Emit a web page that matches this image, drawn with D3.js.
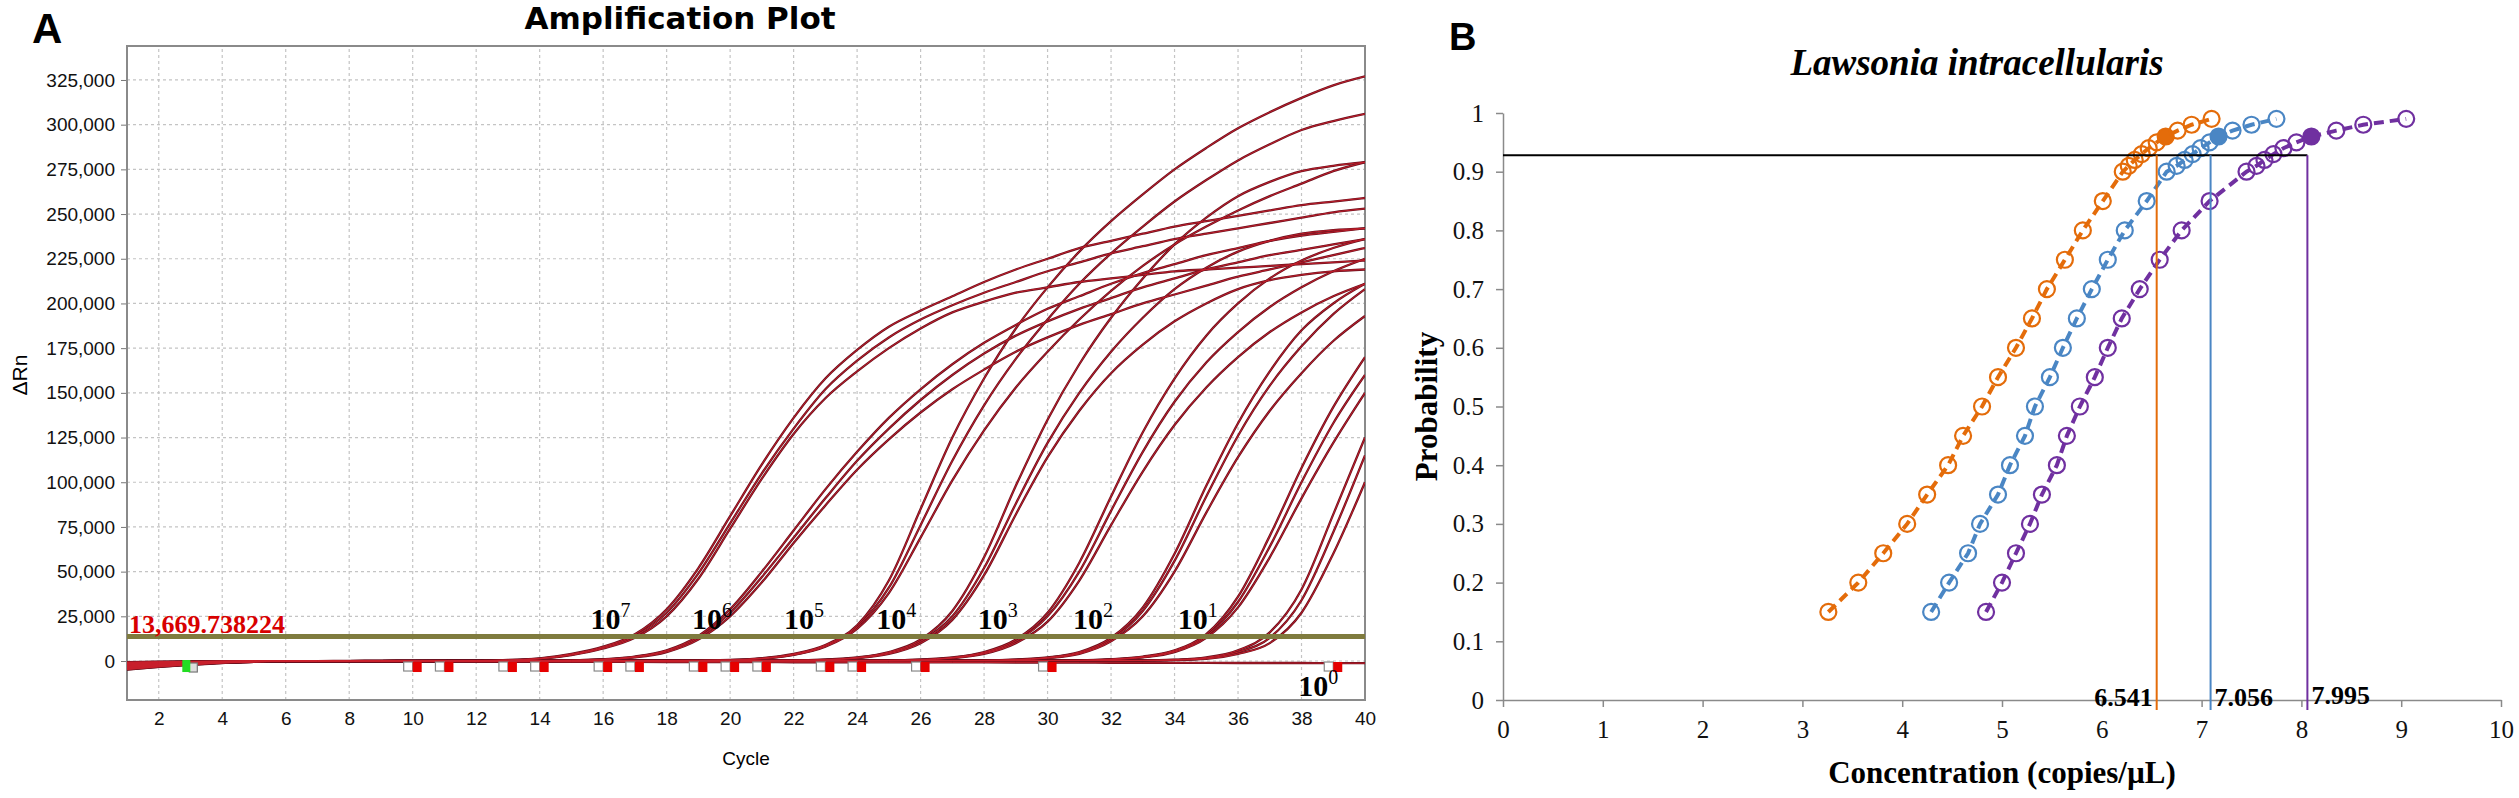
<!DOCTYPE html>
<html>
<head>
<meta charset="utf-8">
<script src="https://cdnjs.cloudflare.com/ajax/libs/d3/7.8.5/d3.min.js"></script>
<style>
  body { margin: 0; background: #fff; }
  svg { display: block; }
  .axisA text { font-family: "Liberation Sans", Arial, sans-serif; font-size: 19px; fill: #111; }
  .axisB text { font-family: "Liberation Serif", "Times New Roman", serif; font-size: 25px; fill: #111; }
</style>
</head>
<body>
<div class="chart"></div>
<script>
'use strict';

// ---- Panel A: amplification plot, dRn in thousands for cycles 1..40
var cycles = d3.range(1, 41);
var dRnTicks = [0, 25, 50, 75, 100, 125, 150, 175, 200, 225, 250, 275, 300, 325];
var cycleTicks = [2, 4, 6, 8, 10, 12, 14, 16, 18, 20, 22, 24, 26, 28, 30, 32, 34, 36, 38, 40];
var threshold = 13.669738224;
var thresholdText = '13,669.738224';

// 10^7 replicates
var rep7a = [-4.6,-3.2,-2,-1,-0.4,0,0,0.1,0.1,0.2,
  0.2,0.3,0.6,1.5,4,8,15,29,52,81,
  110,136,158,174,187,196,204,212,219,225,
  231,235,239,243,246,249,252,255,257,259];
var rep7b = [-2.5,-1.8,-1.1,-0.5,-0.2,0,0,0,0.1,0.1,
  0.2,0.2,0.5,1.3,3.6,7.5,14,27,49,77,
  105,130,152,168,181,191,199,206,212,218,
  223,228,232,236,239,242,245,248,251,253];
var rep7c = [-1,-0.7,-0.4,-0.2,0,0,0,0,0.1,0.1,
  0.1,0.2,0.4,1.2,3.3,7,13,25,46,74,
  102,127,147,162,175,186,195,201,206,209,
  212,214,216,218,219,220,221,222,223,224];
// 10^6
var rep6a = [-4,-2.8,-1.7,-0.9,-0.4,-0.1,0,0,0.1,0.1,
  0.1,0.2,0.2,0.3,0.4,1,2.5,6,14,29,
  50,73,96,117,136,152,166,178,188,197,
  204,211,217,222,227,231,235,238,240,242];
var rep6b = [-3,-2.1,-1.3,-0.7,-0.3,0,0,0,0,0.1,
  0.1,0.1,0.2,0.3,0.4,0.9,2.3,5.6,13,27,
  47,69,91,112,130,146,160,172,182,190,
  197,203,209,214,219,223,227,230,233,236];
var rep6c = [-1.5,-1,-0.6,-0.3,-0.1,0,0,0,0,0.1,
  0.1,0.1,0.2,0.2,0.3,0.8,2,5,12,25,
  44,66,87,107,124,139,152,163,173,181,
  188,194,200,205,210,215,219,223,227,231];
// 10^5
var rep5a = [-3.8,-2.6,-1.5,-0.8,-0.3,0,0,0,0,0.1,
  0.1,0.1,0.1,0.2,0.2,0.2,0.3,0.3,0.4,0.6,
  1.6,4,9,20,45,85,125,158,186,209,
  229,246,261,275,287,298,307,315,322,327];
var rep5b = [-2.2,-1.5,-0.9,-0.4,-0.1,0,0,0,0,0,
  0.1,0.1,0.1,0.1,0.2,0.2,0.2,0.3,0.3,0.5,
  1.4,3.6,8.5,19,41,76,112,143,169,191,
  211,228,243,257,269,280,289,297,302,306];
var rep5c = [-1,-0.6,-0.3,-0.1,0,0,0,0,0,0,
  0,0.1,0.1,0.1,0.1,0.2,0.2,0.2,0.3,0.5,
  1.3,3.4,8,18,38,69,101,129,153,173,
  191,207,221,233,243,252,260,267,274,279];
// 10^4
var rep4a = [-4.2,-2.9,-1.8,-0.9,-0.4,-0.1,0,0,0,0.1,
  0.1,0.1,0.1,0.2,0.2,0.2,0.2,0.3,0.3,0.3,
  0.4,0.4,0.8,2,5,12,28,58,98,135,
  166,192,214,233,248,260,268,274,277,279];
var rep4b = [-2.8,-2,-1.2,-0.6,-0.2,0,0,0,0,0,
  0.1,0.1,0.1,0.1,0.2,0.2,0.2,0.2,0.3,0.3,
  0.3,0.4,0.7,1.8,4.5,11,25,52,88,122,
  150,173,192,208,220,229,235,239,241,242];
var rep4c = [-1.2,-0.8,-0.5,-0.2,0,0,0,0,0,0,
  0,0.1,0.1,0.1,0.1,0.1,0.2,0.2,0.2,0.3,
  0.3,0.3,0.6,1.6,4,10,23,48,82,114,
  140,161,177,190,200,208,213,216,218,219];
// 10^3
var rep3a = [-3.5,-2.4,-1.5,-0.7,-0.3,0,0,0,0,0,
  0.1,0.1,0.1,0.1,0.1,0.2,0.2,0.2,0.2,0.3,
  0.3,0.3,0.3,0.4,0.4,0.8,2,5,12,27,
  55,92,128,158,182,200,214,224,231,236];
var rep3b = [-2,-1.4,-0.8,-0.4,-0.1,0,0,0,0,0,
  0,0.1,0.1,0.1,0.1,0.1,0.1,0.2,0.2,0.2,
  0.2,0.3,0.3,0.3,0.3,0.7,1.8,4.5,11,25,
  50,84,117,145,167,184,198,209,218,225];
var rep3c = [-0.8,-0.5,-0.3,-0.1,0,0,0,0,0,0,
  0,0,0.1,0.1,0.1,0.1,0.1,0.1,0.2,0.2,
  0.2,0.2,0.2,0.3,0.3,0.6,1.6,4,10,22,
  45,76,106,132,153,170,184,195,204,211];
// 10^2
var rep2a = [-4.4,-3,-1.9,-1,-0.4,-0.1,0,0,0,0,
  0,0.1,0.1,0.1,0.1,0.1,0.1,0.2,0.2,0.2,
  0.2,0.2,0.3,0.3,0.3,0.3,0.3,0.4,0.8,2,
  5,13,30,60,98,133,162,185,200,211];
var rep2b = [-3.2,-2.2,-1.4,-0.7,-0.3,0,0,0,0,0,
  0,0,0.1,0.1,0.1,0.1,0.1,0.1,0.1,0.2,
  0.2,0.2,0.2,0.2,0.3,0.3,0.3,0.3,0.7,1.8,
  4.5,12,28,56,92,126,154,176,194,208];
var rep2c = [-1.8,-1.2,-0.7,-0.3,-0.1,0,0,0,0,0,
  0,0,0,0.1,0.1,0.1,0.1,0.1,0.1,0.1,
  0.2,0.2,0.2,0.2,0.2,0.2,0.3,0.3,0.6,1.6,
  4,11,25,50,83,114,140,161,179,193];
// 10^1
var rep1a = [-3.6,-2.5,-1.6,-0.8,-0.3,0,0,0,0,0,
  0,0,0.1,0.1,0.1,0.1,0.1,0.1,0.1,0.2,
  0.2,0.2,0.2,0.2,0.2,0.3,0.3,0.3,0.3,0.3,
  0.4,1,2.5,6,15,36,70,108,142,170];
var rep1b = [-2.4,-1.7,-1,-0.5,-0.2,0,0,0,0,0,
  0,0,0,0.1,0.1,0.1,0.1,0.1,0.1,0.1,
  0.1,0.2,0.2,0.2,0.2,0.2,0.2,0.3,0.3,0.3,
  0.3,0.9,2.2,5.5,14,33,64,100,133,160];
var rep1c = [-0.6,-0.4,-0.2,-0.1,0,0,0,0,0,0,
  0,0,0,0,0.1,0.1,0.1,0.1,0.1,0.1,
  0.1,0.1,0.1,0.2,0.2,0.2,0.2,0.2,0.2,0.3,
  0.3,0.8,2,5,13,30,58,91,122,150];
// 10^0
var rep0a = [-4.8,-3.3,-2.1,-1.1,-0.5,-0.1,0,0,0,0,
  0,0,0,0.1,0.1,0.1,0.1,0.1,0.1,0.1,
  0.1,0.2,0.2,0.2,0.2,0.2,0.2,0.2,0.3,0.3,
  0.3,0.3,0.3,0.7,2,6,16,40,82,125];
var rep0b = [-3,-2.1,-1.3,-0.7,-0.3,0,0,0,0,0,
  0,0,0,0,0.1,0.1,0.1,0.1,0.1,0.1,
  0.1,0.1,0.1,0.2,0.2,0.2,0.2,0.2,0.2,0.2,
  0.3,0.3,0.3,0.6,1.6,5,13,34,72,115];
var rep0c = [-1.4,-1,-0.6,-0.3,-0.1,0,0,0,0,0,
  0,0,0,0,0,0.1,0.1,0.1,0.1,0.1,
  0.1,0.1,0.1,0.1,0.1,0.2,0.2,0.2,0.2,0.2,
  0.2,0.2,0.3,0.5,1.2,4,10,27,60,100];
// no template control
var ntc = [-2,-1.4,-0.9,-0.5,-0.3,-0.2,-0.2,-0.2,-0.3,-0.3,
  -0.3,-0.4,-0.4,-0.4,-0.5,-0.5,-0.5,-0.6,-0.6,-0.6,
  -0.6,-0.7,-0.7,-0.7,-0.8,-0.8,-0.8,-0.8,-0.9,-0.9,
  -0.9,-1,-1,-1,-1,-1.1,-1.1,-1.1,-1.2,-1.2];

var curves = [ntc, rep7a, rep7b, rep7c, rep6a, rep6b, rep6c, rep5a, rep5b, rep5c,
  rep4a, rep4b, rep4c, rep3a, rep3b, rep3c, rep2a, rep2b, rep2c,
  rep1a, rep1b, rep1c, rep0a, rep0b, rep0c];

// dilution labels (10^n) and the cycle/dRn they sit at
var dilutionExp = [7, 6, 5, 4, 3, 2, 1, 0];
var labelCycle = [15.6, 18.8, 21.7, 24.6, 27.8, 30.8, 34.1, 37.9];
var labelDRn = [18, 18, 18, 18, 18, 18, 18, -19.5];

// baseline start / end markers along the bottom
var baselineStart = [2.9];
var baselineEnd = [10, 11, 13, 14, 16, 17, 19, 20, 21, 23, 24, 26, 30, 39];

// ---- Panel B: probit plot
var probability = [0.15,0.2,0.25,0.3,0.35,0.4,0.45,0.5,0.55,0.6,0.65,0.7,0.75,0.8,0.85,
  0.9,0.91,0.92,0.93,0.94,0.95,0.96,0.97,0.98,0.99];
var concOrange = [3.26,3.56,3.81,4.05,4.25,4.46,4.61,4.80,4.96,5.14,5.30,5.45,5.63,5.81,6.01,
  6.21,6.27,6.33,6.40,6.47,6.55,6.64,6.76,6.90,7.10];
var concBlue = [4.29,4.47,4.66,4.78,4.96,5.08,5.23,5.33,5.48,5.61,5.75,5.90,6.06,6.23,6.45,
  6.65,6.75,6.83,6.91,6.99,7.08,7.17,7.31,7.50,7.75];
var concPurple = [4.84,5.00,5.14,5.28,5.40,5.55,5.65,5.78,5.93,6.06,6.20,6.38,6.58,6.80,7.08,
  7.45,7.55,7.63,7.72,7.82,7.95,8.10,8.35,8.62,9.05];
var highlightProb = 0.96;
var cutoffProb = 0.928;
var cutoffConc = [6.55, 7.09, 8.06];
var cutoffText = ['6.541', '7.056', '7.995'];
var probTicks = [0, 0.1, 0.2, 0.3, 0.4, 0.5, 0.6, 0.7, 0.8, 0.9, 1];
var concTicks = [0, 1, 2, 3, 4, 5, 6, 7, 8, 9, 10];

var seriesColors = ['#e46c0a', '#4a86c4', '#7030a0'];

var svg = d3.select('.chart').append('svg')
  .attr('width', 2519)
  .attr('height', 798);

svg.append('rect').attr('width', 2519).attr('height', 798).attr('fill', '#fff');

/* ================= Panel A ================= */
var xA = d3.scaleLinear().domain([1, 40]).range([127, 1365]);
var yA = d3.scaleLinear().domain([-21.8, 344]).range([700, 46]);

var gA = svg.append('g');

// dashed grid
gA.selectAll('line.hgrid').data(dRnTicks).enter().append('line')
  .attr('class', 'hgrid')
  .attr('x1', xA(1)).attr('x2', xA(40))
  .attr('y1', function(d) { return yA(d); })
  .attr('y2', function(d) { return yA(d); })
  .attr('stroke', '#c4c4c4').attr('stroke-width', 1.2)
  .attr('stroke-dasharray', '3,3');

gA.selectAll('line.vgrid').data(cycleTicks.slice(0, -1)).enter().append('line')
  .attr('class', 'vgrid')
  .attr('y1', yA.range()[0]).attr('y2', yA.range()[1])
  .attr('x1', function(d) { return xA(d); })
  .attr('x2', function(d) { return xA(d); })
  .attr('stroke', '#c4c4c4').attr('stroke-width', 1.2)
  .attr('stroke-dasharray', '3,3');

// axes
var axisLeftA = gA.append('g')
  .attr('class', 'axisA')
  .attr('transform', 'translate(' + xA(1) + ',0)')
  .call(d3.axisLeft(yA).tickValues(dRnTicks).tickSize(6).tickPadding(6)
    .tickFormat(function(d) { return d3.format(',')(d * 1000); }));
axisLeftA.select('.domain').remove();
axisLeftA.selectAll('line').attr('stroke', '#777');

var axisBottomA = gA.append('g')
  .attr('class', 'axisA')
  .attr('transform', 'translate(0,' + yA.range()[0] + ')')
  .call(d3.axisBottom(xA).tickValues(cycleTicks).tickSize(0).tickPadding(12));
axisBottomA.select('.domain').remove();

// frame
gA.append('rect')
  .attr('x', xA(1)).attr('y', yA.range()[1])
  .attr('width', xA(40) - xA(1)).attr('height', yA.range()[0] - yA.range()[1])
  .attr('fill', 'none').attr('stroke', '#8a8a8a').attr('stroke-width', 2);

svg.append('clipPath').attr('id', 'clipA')
  .append('rect')
  .attr('x', xA(1)).attr('y', yA.range()[1])
  .attr('width', xA(40) - xA(1)).attr('height', yA.range()[0] - yA.range()[1]);

var lineA = d3.line()
  .x(function(d, i) { return xA(cycles[i]); })
  .y(function(d) { return yA(d); })
  .curve(d3.curveMonotoneX);

var curveLayer = gA.append('g').attr('clip-path', 'url(#clipA)');

// dark outline first, red core on top
curveLayer.selectAll('path.outer').data(curves).enter().append('path')
  .attr('class', 'outer')
  .attr('d', lineA)
  .attr('fill', 'none').attr('stroke', '#6a0f1c').attr('stroke-width', 2.3);

curveLayer.selectAll('path.inner').data(curves).enter().append('path')
  .attr('class', 'inner')
  .attr('d', lineA)
  .attr('fill', 'none').attr('stroke', '#c8202c').attr('stroke-width', 0.9);

// threshold
gA.append('line')
  .attr('x1', xA(1)).attr('x2', xA(40))
  .attr('y1', yA(threshold)).attr('y2', yA(threshold))
  .attr('stroke', '#7f7b3e').attr('stroke-width', 5);

gA.append('text')
  .attr('x', xA(1) + 2).attr('y', yA(threshold) - 4)
  .attr('font-family', '"Liberation Serif", "Times New Roman", serif')
  .attr('font-weight', 'bold').attr('font-size', 26)
  .attr('fill', '#d80000')
  .text(thresholdText);

// baseline markers
var markLayer = gA.append('g');
baselineEnd.forEach(function(c) {
  markLayer.append('rect')
    .attr('x', xA(c) - 9).attr('y', yA(0) + 1)
    .attr('width', 9).attr('height', 9)
    .attr('fill', '#fff').attr('stroke', '#888').attr('stroke-width', 1.2);
  markLayer.append('rect')
    .attr('x', xA(c)).attr('y', yA(0) + 1)
    .attr('width', 9).attr('height', 10)
    .attr('fill', '#e60000');
});
baselineStart.forEach(function(c) {
  markLayer.append('rect')
    .attr('x', xA(c) + 2).attr('y', yA(0) + 2)
    .attr('width', 8).attr('height', 9)
    .attr('fill', '#ddd').attr('stroke', '#777').attr('stroke-width', 1.2);
  markLayer.append('rect')
    .attr('x', xA(c) - 5).attr('y', yA(0) - 1)
    .attr('width', 8).attr('height', 12)
    .attr('fill', '#22dd22');
});

// dilution labels
var dl = gA.selectAll('text.dil').data(dilutionExp).enter().append('text')
  .attr('class', 'dil')
  .attr('x', function(d, i) { return xA(labelCycle[i]); })
  .attr('y', function(d, i) { return yA(labelDRn[i]); })
  .attr('font-family', '"Liberation Serif", "Times New Roman", serif')
  .attr('font-weight', 'bold').attr('font-size', 30)
  .attr('fill', '#000');
dl.append('tspan').text('10');
dl.append('tspan').attr('dy', -12).attr('font-size', 20).attr('font-weight', 'normal')
  .text(function(d) { return d; });

// titles
svg.append('text')
  .attr('x', 32).attr('y', 43)
  .attr('font-family', '"Liberation Sans", Arial, sans-serif')
  .attr('font-weight', 'bold').attr('font-size', 42)
  .text('A');

svg.append('text')
  .attr('x', 680).attr('y', 29)
  .attr('text-anchor', 'middle')
  .attr('font-family', '"DejaVu Sans", sans-serif')
  .attr('font-weight', 'bold').attr('font-size', 31)
  .text('Amplification Plot');

svg.append('text')
  .attr('x', (xA(1) + xA(40)) / 2).attr('y', 765)
  .attr('text-anchor', 'middle')
  .attr('font-family', '"Liberation Sans", Arial, sans-serif')
  .attr('font-size', 19)
  .text('Cycle');

svg.append('text')
  .attr('transform', 'translate(27,375) rotate(-90)')
  .attr('text-anchor', 'middle')
  .attr('font-family', '"Liberation Sans", Arial, sans-serif')
  .attr('font-size', 21)
  .text('\u0394Rn');

/* ================= Panel B ================= */
var xB = d3.scaleLinear().domain([0, 10]).range([1503, 2501]);
var yB = d3.scaleLinear().domain([0, 1]).range([700, 113]);

var gB = svg.append('g');

var axisLeftB = gB.append('g')
  .attr('class', 'axisB')
  .attr('transform', 'translate(' + xB(0) + ',0)')
  .call(d3.axisLeft(yB).tickValues(probTicks).tickFormat(d3.format('~g'))
    .tickSize(7).tickPadding(12).tickSizeOuter(0));
axisLeftB.selectAll('line, path').attr('stroke', '#8a8a8a').attr('stroke-width', 1.5);

var axisBottomB = gB.append('g')
  .attr('class', 'axisB')
  .attr('transform', 'translate(0,' + yB(0) + ')')
  .call(d3.axisBottom(xB).tickValues(concTicks).tickFormat(d3.format('~g'))
    .tickSize(7).tickPadding(13).tickSizeOuter(0));
axisBottomB.selectAll('line, path').attr('stroke', '#8a8a8a').attr('stroke-width', 1.5);

var lineB = d3.line()
  .x(function(d) { return xB(d[0]); })
  .y(function(d) { return yB(d[1]); });

[concOrange, concBlue, concPurple].forEach(function(conc, s) {
  var pts = conc.map(function(c, i) { return [c, probability[i]]; });
  var col = seriesColors[s];

  gB.append('path')
    .attr('d', lineB(pts))
    .attr('fill', 'none')
    .attr('stroke', col).attr('stroke-width', 4)
    .attr('stroke-dasharray', '10,6');

  gB.selectAll('circle.s' + s).data(pts).enter().append('circle')
    .attr('class', 's' + s)
    .attr('cx', function(d) { return xB(d[0]); })
    .attr('cy', function(d) { return yB(d[1]); })
    .attr('r', 8)
    .attr('fill', function(d) { return d[1] === highlightProb ? col : 'none'; })
    .attr('stroke', col).attr('stroke-width', 2.2);
});

// cutoff lines
gB.append('line')
  .attr('x1', xB(0)).attr('x2', xB(cutoffConc[2]))
  .attr('y1', yB(cutoffProb)).attr('y2', yB(cutoffProb))
  .attr('stroke', '#000').attr('stroke-width', 2);

cutoffConc.forEach(function(c, i) {
  gB.append('line')
    .attr('x1', xB(c)).attr('x2', xB(c))
    .attr('y1', yB(cutoffProb)).attr('y2', yB(0) + 10)
    .attr('stroke', seriesColors[i]).attr('stroke-width', 2);

  gB.append('text')
    .attr('x', i === 0 ? xB(c) - 4 : xB(c) + 4)
    .attr('y', yB(0) + 6 - (i === 2 ? 2 : 0))
    .attr('text-anchor', i === 0 ? 'end' : 'start')
    .attr('font-family', '"Liberation Serif", "Times New Roman", serif')
    .attr('font-weight', 'bold').attr('font-size', 26)
    .text(cutoffText[i]);
});

svg.append('text')
  .attr('x', 1449).attr('y', 50)
  .attr('font-family', '"Liberation Sans", Arial, sans-serif')
  .attr('font-weight', 'bold').attr('font-size', 38)
  .text('B');

svg.append('text')
  .attr('x', 1977).attr('y', 75)
  .attr('text-anchor', 'middle')
  .attr('font-family', '"Liberation Serif", "Times New Roman", serif')
  .attr('font-weight', 'bold').attr('font-style', 'italic').attr('font-size', 37)
  .text('Lawsonia intracellularis');

svg.append('text')
  .attr('transform', 'translate(1437,' + yB(0.5) + ') rotate(-90)')
  .attr('text-anchor', 'middle')
  .attr('font-family', '"Liberation Serif", "Times New Roman", serif')
  .attr('font-weight', 'bold').attr('font-size', 31)
  .text('Probability');

svg.append('text')
  .attr('x', (xB(0) + xB(10)) / 2).attr('y', 783)
  .attr('text-anchor', 'middle')
  .attr('font-family', '"Liberation Serif", "Times New Roman", serif')
  .attr('font-weight', 'bold').attr('font-size', 31)
  .text('Concentration (copies/\u00b5L)');
</script>
</body>
</html>
